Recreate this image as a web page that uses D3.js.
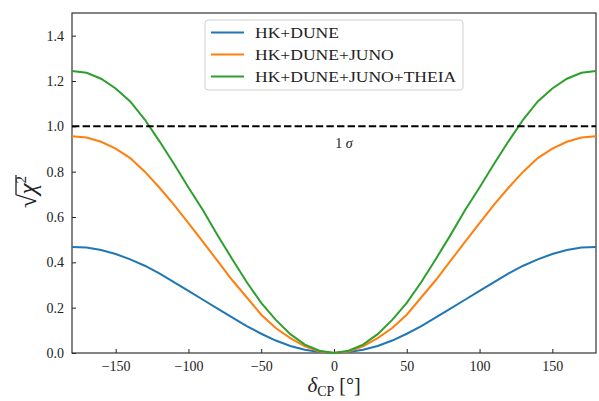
<!DOCTYPE html>
<html>
<head>
<meta charset="utf-8">
<script src="https://cdn.jsdelivr.net/npm/d3@7"></script>
<style>
  body { margin: 0; background: #fff; }
  svg text { font-family: "Liberation Serif", "DejaVu Serif", serif; fill: #222; }
</style>
</head>
<body>
<div id="chart"></div>
<script>
// data, delta_CP in degrees
var deltaCP = d3.range(-180, 181, 10);
var hkDune = [0.468, 0.465, 0.454, 0.437, 0.413, 0.385, 0.351, 0.313, 0.274, 0.235,
  0.196, 0.157, 0.119, 0.085, 0.055, 0.031, 0.014, 0.004, 0.0,
  0.004, 0.014, 0.031, 0.055, 0.085, 0.119, 0.157, 0.196, 0.235,
  0.274, 0.313, 0.351, 0.385, 0.413, 0.437, 0.454, 0.465, 0.468];
var hkDuneJuno = [0.956, 0.951, 0.932, 0.902, 0.860, 0.800, 0.730, 0.655, 0.573, 0.490,
  0.406, 0.322, 0.246, 0.169, 0.110, 0.066, 0.029, 0.007, 0.0,
  0.007, 0.029, 0.066, 0.110, 0.169, 0.246, 0.322, 0.406, 0.490,
  0.573, 0.655, 0.730, 0.800, 0.860, 0.902, 0.932, 0.951, 0.956];
var hkDuneJunoTheia = [1.244, 1.236, 1.210, 1.167, 1.110, 1.030, 0.935, 0.835, 0.730, 0.630,
  0.520, 0.415, 0.313, 0.221, 0.146, 0.083, 0.037, 0.010, 0.0,
  0.010, 0.037, 0.083, 0.146, 0.221, 0.313, 0.415, 0.520, 0.630,
  0.730, 0.835, 0.935, 1.030, 1.110, 1.167, 1.210, 1.236, 1.244];
var seriesNames = ["HK+DUNE", "HK+DUNE+JUNO", "HK+DUNE+JUNO+THEIA"];
var seriesColors = ["#1f77b4", "#ff7f0e", "#2ca02c"];
var xTicks = [-150, -100, -50, 0, 50, 100, 150];
var yTicks = [0, 0.2, 0.4, 0.6, 0.8, 1.0, 1.2, 1.4];
var sigmaLevel = 1.0;

var W = 599, H = 401;
var margin = {top: 13, right: 3, bottom: 48, left: 72};
var width = W - margin.left - margin.right,
    height = H - margin.top - margin.bottom;

var svg = d3.select("#chart").append("svg")
    .attr("width", W)
    .attr("height", H);
var g = svg.append("g")
    .attr("transform", "translate(" + margin.left + "," + margin.top + ")");

var x = d3.scaleLinear().domain([-180, 180]).range([0, width]);
var y = d3.scaleLinear().domain([0, 1.5]).range([height, 0]);

// axes, ticks pointing inward
var xAxis = g.append("g")
    .attr("transform", "translate(0," + height + ")")
    .call(d3.axisBottom(x).tickValues(xTicks).tickSizeInner(-4).tickSizeOuter(0).tickPadding(8)
        .tickFormat(function (d) { return d < 0 ? "\u2212" + Math.abs(d) : d; }));
var yAxis = g.append("g")
    .call(d3.axisLeft(y).tickValues(yTicks).tickSizeInner(-4).tickSizeOuter(0).tickPadding(8)
        .tickFormat(d3.format(".1f")));
[xAxis, yAxis].forEach(function (a) {
    a.select(".domain").remove();
    a.selectAll("line").attr("stroke", "#222").attr("stroke-width", 1);
    a.selectAll("text").attr("font-size", 14).attr("fill", "#222");
});

// frame
g.append("rect")
    .attr("width", width).attr("height", height)
    .attr("fill", "none").attr("stroke", "#333").attr("stroke-width", 1.2);

// curves
var line = d3.line()
    .x(function (d) { return x(d[0]); })
    .y(function (d) { return y(d[1]); });
[hkDune, hkDuneJuno, hkDuneJunoTheia].forEach(function (vals, i) {
    g.append("path")
        .datum(deltaCP.map(function (d, j) { return [d, vals[j]]; }))
        .attr("d", line)
        .attr("fill", "none")
        .attr("stroke", seriesColors[i])
        .attr("stroke-width", 2);
});

// 1 sigma line
g.append("line")
    .attr("x1", 0).attr("x2", width)
    .attr("y1", y(sigmaLevel)).attr("y2", y(sigmaLevel))
    .attr("stroke", "#000").attr("stroke-width", 2)
    .attr("stroke-dasharray", "7.4,3.2");
var sig = g.append("text")
    .attr("x", x(0) + 10).attr("y", y(sigmaLevel) + 22)
    .attr("text-anchor", "middle").attr("font-size", 14);
sig.append("tspan").text("1 ");
sig.append("tspan").attr("font-style", "italic").text("σ");

// legend
var legend = g.append("g").attr("transform", "translate(133,7)");
legend.append("rect")
    .attr("width", 258).attr("height", 70).attr("rx", 3)
    .attr("fill", "#fff").attr("stroke", "#d0d0d0").attr("stroke-width", 1);
seriesNames.forEach(function (name, i) {
    var yy = 12.5 + i * 22;
    legend.append("line")
        .attr("x1", 6).attr("x2", 39).attr("y1", yy).attr("y2", yy)
        .attr("stroke", seriesColors[i]).attr("stroke-width", 2);
    var t = legend.append("text")
        .attr("x", 50).attr("y", yy + 5.5)
        .attr("font-size", 15).text(name);
    // the original face is wider than Times: stretch a bit
    var w = t.node().getComputedTextLength();
    t.attr("textLength", w * 1.17).attr("lengthAdjust", "spacingAndGlyphs");
});

// x label
var xl = svg.append("text")
    .attr("x", margin.left + x(0)).attr("y", 392)
    .attr("text-anchor", "middle").attr("font-size", 21);
xl.append("tspan").attr("font-style", "italic").text("δ");
xl.append("tspan").attr("font-size", 14).attr("dy", 4).text("CP");
xl.append("tspan").attr("dy", -4).attr("font-size", 20).text(" [°]");

// y label: sqrt(chi^2)
var yl = svg.append("g").attr("transform", "translate(36,192) rotate(-90)");
var ylt = yl.append("text").attr("text-anchor", "middle").attr("font-size", 25);
ylt.append("tspan").text("√");
ylt.append("tspan").attr("font-style", "italic").text("χ");
ylt.append("tspan").attr("font-size", 15).attr("dy", -10).text("2");
var bb = ylt.node().getBBox();
yl.append("line")
    .attr("x1", bb.x + 13).attr("x2", bb.x + bb.width + 1)
    .attr("y1", bb.y + 3).attr("y2", bb.y + 3)
    .attr("stroke", "#222").attr("stroke-width", 1.3);
</script>
</body>
</html>
